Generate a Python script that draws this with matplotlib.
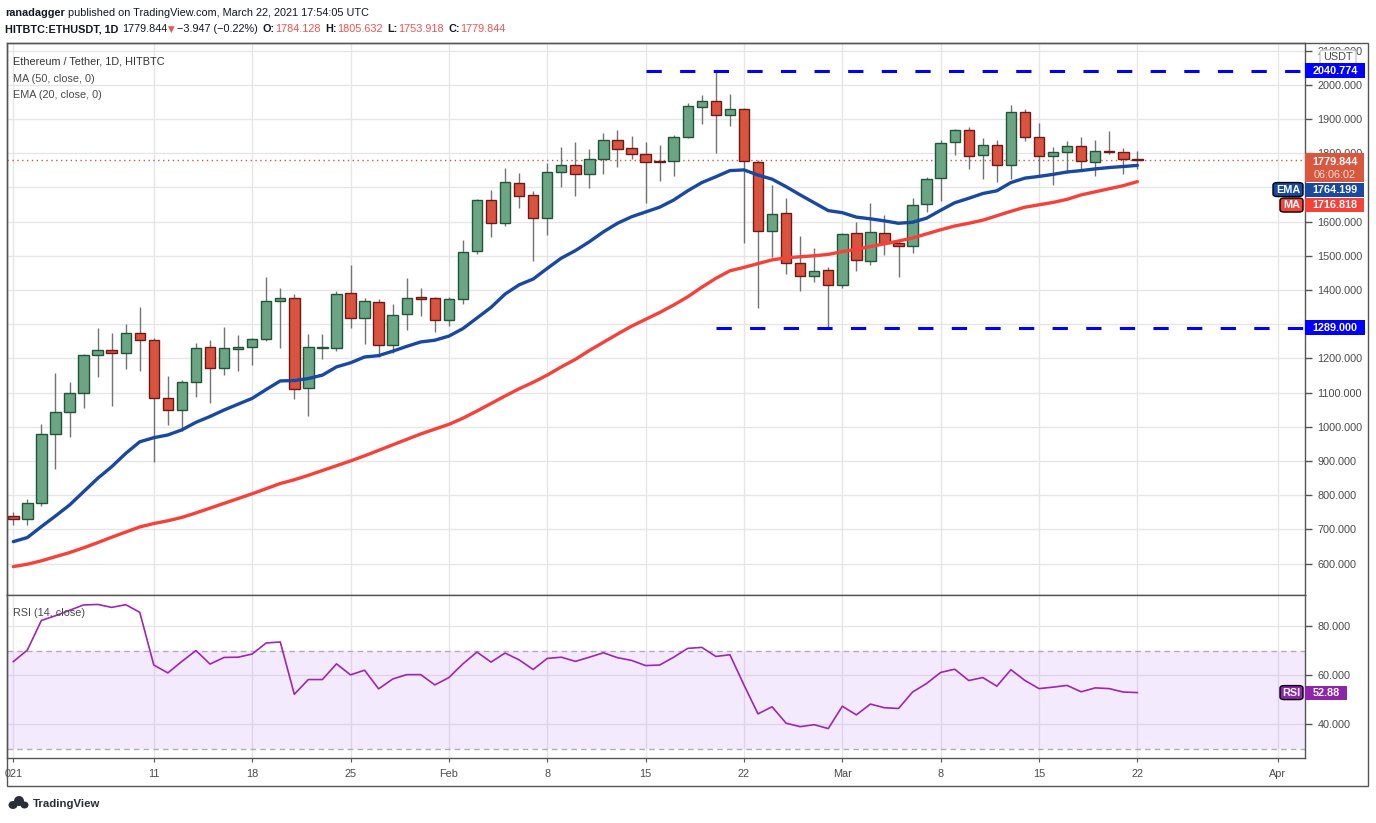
import matplotlib
matplotlib.use("Agg")
import matplotlib.pyplot as plt
import matplotlib.dates as mdates
from matplotlib.patches import Rectangle, FancyBboxPatch, Ellipse
from matplotlib.ticker import FuncFormatter
from matplotlib import font_manager
import numpy as np
import pandas as pd

# ---- data (HITBTC ETHUSDT, 1D) ----
dates = pd.date_range("2021-01-01", "2021-03-22", freq="D")

opens = [738, 730, 776, 978, 1042, 1098, 1209, 1224, 1215, 1273, 1253, 1083, 1048, 1130, 1232, 1171,
         1227, 1233, 1258, 1367, 1376, 1113, 1230, 1231, 1390, 1317, 1364, 1238, 1329, 1379, 1376,
         1311, 1373, 1513, 1662, 1595, 1712, 1677, 1609, 1744, 1765, 1738, 1782, 1838, 1814, 1797, 1777,
         1776, 1846, 1934, 1952, 1911, 1928, 1773, 1572, 1624, 1478, 1442, 1458,
         1414, 1566, 1484, 1566, 1537, 1528, 1651, 1727, 1832, 1867, 1794, 1823, 1765, 1920, 1846, 1791,
         1803, 1820, 1773, 1806, 1803, 1784.128]
highs = [750, 788, 1008, 1156, 1130, 1212, 1289, 1274, 1301, 1350, 1259, 1149, 1137, 1245, 1254, 1292,
         1268, 1259, 1438, 1405, 1388, 1271, 1271, 1397, 1473, 1376, 1373, 1359, 1435, 1405, 1379,
         1379, 1546, 1666, 1692, 1757, 1742, 1689, 1771, 1818, 1833, 1812, 1859, 1868, 1850, 1833, 1824,
         1853, 1946, 1970, 2040.774, 1973, 1931, 1780, 1707, 1668, 1557, 1522, 1466,
         1566, 1599, 1654, 1618, 1545, 1669, 1730, 1839, 1870, 1877, 1844, 1839, 1940, 1928, 1888, 1818,
         1836, 1847, 1839, 1865, 1816, 1805.632]
lows = [713, 713, 769, 876, 971, 1056, 1144, 1062, 1170, 1164, 898, 1006, 989, 1088, 1070, 1152,
        1164, 1182, 1250, 1231, 1082, 1030, 1197, 1221, 1290, 1243, 1205, 1215, 1284, 1325, 1278,
        1295, 1360, 1506, 1556, 1588, 1641, 1486, 1562, 1702, 1676, 1699, 1738, 1760, 1782, 1655, 1720,
        1733, 1843, 1886, 1800, 1880, 1538, 1348, 1497, 1448, 1398, 1424, 1289,
        1405, 1454, 1474, 1503, 1439, 1509, 1629, 1661, 1796, 1755, 1723, 1717, 1725, 1835, 1735, 1708,
        1741, 1755, 1732, 1799, 1740, 1753.918]
closes = [730, 776, 978, 1042, 1098, 1209, 1224, 1215, 1273, 1253, 1083, 1048, 1130, 1230, 1171, 1230,
          1233, 1256, 1367, 1376, 1110, 1232, 1233, 1387, 1317, 1367, 1238, 1326, 1376, 1375, 1311,
          1373, 1510, 1662, 1595, 1715, 1674, 1610, 1744, 1765, 1738, 1782, 1838, 1811, 1797, 1773, 1775,
          1846, 1937, 1952, 1911, 1928, 1776, 1572, 1621, 1478, 1440, 1455, 1414,
          1563, 1487, 1569, 1537, 1528, 1648, 1724, 1829, 1867, 1791, 1823, 1765, 1920, 1846, 1791, 1803,
          1820, 1776, 1806, 1802, 1784, 1779.844]
ema20 = [664, 676, 708, 739, 771, 810, 849, 883, 922, 956, 968, 976, 991, 1013, 1030, 1049,
         1066, 1083, 1109, 1134, 1135, 1141, 1151, 1175, 1187, 1204, 1208, 1221, 1235, 1248, 1253,
         1265, 1287, 1318, 1349, 1388, 1415, 1432, 1463, 1493, 1515, 1541, 1570, 1595, 1614, 1628, 1642,
         1663, 1690, 1714, 1731, 1749, 1751, 1736, 1724, 1702, 1678, 1655, 1632,
         1626, 1613, 1608, 1602, 1595, 1598, 1610, 1633, 1655, 1668, 1682, 1690, 1714, 1727, 1732, 1738,
         1745, 1749, 1754, 1758, 1761, 1764.199]
ma50 = [591, 598, 608, 620, 632, 646, 661, 677, 692, 707, 717, 725, 735, 748, 762, 776,
        790, 804, 819, 834, 845, 858, 872, 886, 900, 915, 931, 947, 963, 979, 993,
        1007, 1025, 1046, 1068, 1090, 1111, 1130, 1151, 1175, 1197, 1223, 1247, 1271, 1294, 1314, 1334,
        1356, 1380, 1408, 1434, 1456, 1466, 1477, 1488, 1494, 1497, 1500, 1504,
        1512, 1519, 1527, 1535, 1543, 1552, 1564, 1576, 1587, 1595, 1604, 1617, 1630, 1642, 1649, 1656,
        1665, 1678, 1687, 1696, 1705, 1716.818]
rsi14 = [65.5, 70.2, 82.3, 84.2, 86.4, 88.6, 88.8, 87.6, 88.7, 85.6, 64.1, 60.9, 65.6, 70.0, 64.5, 67.2,
         67.3, 68.6, 73.1, 73.5, 52.2, 58.2, 58.2, 64.6, 60.1, 62.0, 54.4, 58.4, 60.2, 60.2, 56.0,
         59.0, 64.6, 69.4, 65.3, 69.0, 66.2, 62.3, 66.8, 67.3, 65.6, 67.3, 69.1, 67.1, 66.0, 63.9, 64.1,
         67.3, 70.9, 71.3, 67.6, 68.3, 56.0, 44.2, 47.1, 40.4, 39.0, 39.8, 38.2,
         47.3, 43.8, 48.2, 46.7, 46.4, 53.1, 56.6, 61.1, 62.4, 57.8, 59.0, 55.5, 62.2, 57.8, 54.5, 55.1,
         55.8, 53.2, 54.8, 54.5, 53.1, 52.88]

tick_dates = ["2021-01-01", "2021-01-11", "2021-01-18", "2021-01-25", "2021-02-01", "2021-02-08",
              "2021-02-15", "2021-02-22", "2021-03-01", "2021-03-08", "2021-03-15", "2021-03-22",
              "2021-04-01"]
tick_labels = ["021", "11", "18", "25", "Feb", "8", "15", "22", "Mar", "8", "15", "22", "Apr"]

resistance = 2040.774
resistance_from = "2021-02-15"
support = 1289.000
support_from = "2021-02-20"
last_price = 1779.844
last_ema = 1764.199
last_ma = 1716.818
last_rsi = 52.88

# ---- fonts ----
names = {f.name for f in font_manager.fontManager.ttflist}
if "Liberation Sans Narrow" in names:
    FONT, S = "Liberation Sans Narrow", 9.4
else:
    FONT, S = "Liberation Sans", 7.8
plt.rcParams["font.family"] = [FONT, "DejaVu Sans"]

W, H = 1376, 823
fig = plt.figure(figsize=(W / 100, H / 100), dpi=100)
fig.patch.set_facecolor("white")


def fx(px):
    return px / W


def fy(py):
    return 1 - py / H


def pane(l, t, r, b, **kw):
    return fig.add_axes([fx(l), fy(b), (r - l) / W, (b - t) / H], **kw)


def rect(l, t, r, b, rounded=False, **kw):
    if rounded:
        p = FancyBboxPatch((fx(l), fy(b)), (r - l) / W, (b - t) / H,
                           boxstyle="round,pad=0,rounding_size=0.003",
                           transform=fig.transFigure, **kw)
    else:
        p = Rectangle((fx(l), fy(b)), (r - l) / W, (b - t) / H, transform=fig.transFigure, **kw)
    fig.patches.append(p)


def txt(px, py, s, **kw):
    kw.setdefault("va", "center")
    kw.setdefault("size", S)
    return fig.text(fx(px), fy(py), s, **kw)


def val_y(axis, v):
    return H - axis.transData.transform((0, v))[1]


GRID = "#e6e6e6"
SPINE = "#555555"
LABEL = "#4a4a4a"

x = mdates.date2num(dates)
o, h, lo, c = map(np.array, (opens, highs, lows, closes))

ax = pane(6.7, 42.7, 1305, 595)
axr = pane(6.7, 595, 1305, 758.3, sharex=ax)

ax.set_xlim(x[0] - 0.47, x[0] + 91.93)
ax.set_ylim(508, 2123)
axr.set_ylim(26.1, 92.65)

tx = mdates.date2num(pd.to_datetime(tick_dates))
ax.set_xticks(tx)
axr.set_xticklabels(tick_labels)

for a in (ax, axr):
    a.set_axisbelow(True)
    a.grid(True, color=GRID, lw=1)
    a.yaxis.tick_right()
    a.tick_params(axis="y", length=5, width=1, color=SPINE, pad=4, labelsize=S, labelcolor=LABEL)
    for sp in a.spines.values():
        sp.set_color(SPINE)
        sp.set_linewidth(1)
ax.tick_params(axis="x", length=0, labelbottom=False)
axr.tick_params(axis="x", length=3, color=SPINE, pad=5, labelsize=S, labelcolor=LABEL)

# value boxes on the price scale (pixel spans top..bottom); axis labels under them are hidden
last_y = val_y(ax, last_price)
ema_y, ma_y = last_y + 29.5, last_y + 45
box_spans = [(val_y(ax, resistance) - 7.5, val_y(ax, resistance) + 7.5),
             (val_y(ax, support) - 7.5, val_y(ax, support) + 7.5),
             (last_y - 7, last_y + 22), (ema_y - 7, ema_y + 7), (ma_y - 7, ma_y + 7)]


def price_fmt(v, _):
    yp = val_y(ax, v)
    for t, b in box_spans:
        if t + 2 < yp < b - 2:
            return ""
    return f"{v:.3f}"


ax.set_yticks(np.arange(600, 2101, 100))
axr.set_yticks([40, 60, 80])
ax.yaxis.set_major_formatter(FuncFormatter(price_fmt))
axr.yaxis.set_major_formatter(FuncFormatter(lambda v, _: f"{v:.3f}"))

# ---- candles ----
up = c >= o
bottom = np.minimum(o, c)
height = np.maximum(np.abs(c - o), 1.5)
ax.vlines(x, lo, h, color="#737373", lw=1, zorder=3)
ax.bar(x[up], height[up], bottom=bottom[up], width=0.74, color="#6ba583",
       edgecolor="#225437", lw=1, zorder=4)
ax.bar(x[~up], height[~up], bottom=bottom[~up], width=0.74, color="#d9533f",
       edgecolor="#6b1a1a", lw=1, zorder=4)

ax.plot(x, ma50, color="#f4413a", lw=2.4, zorder=5, solid_capstyle="round")
ax.plot(x, ema20, color="#1848a0", lw=2.4, zorder=6, solid_capstyle="round")

ax.axhline(last_price, color="#d9533f", lw=1, ls=(0, (1, 2.5)), zorder=2)
x_end = x[0] + 92
ax.hlines(resistance, mdates.date2num(pd.Timestamp(resistance_from)), x_end, color="#0000ff",
          lw=2.2, ls=(0, (5, 6)), zorder=7)
ax.hlines(support, mdates.date2num(pd.Timestamp(support_from)), x_end, color="#0000ff",
          lw=2.2, ls=(0, (5, 6)), zorder=7)

# ---- RSI pane ----
axr.axhspan(30, 70, facecolor=(0.6, 0.2, 0.98, 0.1), edgecolor="none", zorder=1)
for lvl in (70, 30):
    axr.axhline(lvl, color="#b5a9bb", lw=1, ls=(0, (4, 3)), zorder=2)
axr.plot(x, rsi14, color="#9c27b0", lw=1.2, zorder=3)

# ---- outer frame ----
rect(6.7, 42.7, 1368, 786, fill=False, ec=SPINE, lw=1)

# ---- in-pane legends ----
txt(13, 61, "Ethereum / Tether, 1D, HITBTC", color="#333333")
txt(13, 78.5, "MA (50, close, 0)", color=LABEL)
txt(13, 95, "EMA (20, close, 0)", color=LABEL)
txt(13, 612.5, "RSI (14, close)", color=LABEL)

# ---- price axis value boxes ----
rect(1320, 50, 1356, 65, rounded=True, fc="white", ec="#c8c8c8", lw=1, zorder=10)
txt(1338, 57.5, "USDT", color=LABEL, ha="center", zorder=11)

yc = val_y(ax, resistance)
rect(1305, yc - 7.5, 1365, yc + 7.5, fc="#0000ff", zorder=10)
txt(1335, yc, f"{resistance:.3f}", color="white", weight="bold", ha="center", zorder=11)

yc = val_y(ax, support)
rect(1305, yc - 7.5, 1365, yc + 7.5, fc="#0000ff", zorder=10)
txt(1335, yc, f"{support:.3f}", color="white", weight="bold", ha="center", zorder=11)

rect(1305, last_y - 7, 1364, last_y + 22, fc="#d9573f", zorder=10)
txt(1335, last_y + 1.5, f"{last_price:.3f}", color="white", weight="bold", ha="center", zorder=11)
txt(1335, last_y + 15, "06:06:02", color="#fbe0da", ha="center", zorder=11)

rect(1273, ema_y - 7, 1303, ema_y + 7, rounded=True, fc="#1848a0", zorder=10)
txt(1288, ema_y, "EMA", color="white", weight="bold", ha="center", zorder=11)
rect(1305, ema_y - 7, 1364, ema_y + 7, fc="#1848a0", zorder=10)
txt(1335, ema_y, f"{last_ema:.3f}", color="white", weight="bold", ha="center", zorder=11)

rect(1280, ma_y - 7, 1303, ma_y + 7, rounded=True, fc="#f4413a", zorder=10)
txt(1291.5, ma_y, "MA", color="white", weight="bold", ha="center", zorder=11)
rect(1305, ma_y - 7, 1364, ma_y + 7, fc="#f4413a", zorder=10)
txt(1335, ma_y, f"{last_ma:.3f}", color="white", weight="bold", ha="center", zorder=11)

yr = val_y(axr, last_rsi)
rect(1280, yr - 7, 1303, yr + 7, rounded=True, fc="#8e24aa", zorder=10)
txt(1291.5, yr, "RSI", color="white", weight="bold", ha="center", zorder=11)
rect(1305, yr - 7, 1347, yr + 7, fc="#8e24aa", zorder=10)
txt(1326, yr, f"{last_rsi:.2f}", color="white", weight="bold", ha="center", zorder=11)

# ---- header ----
renderer = fig.canvas.get_renderer()
DARK = "#131722"
RED = "#ef5350"


def run_text(px, py, pieces):
    cur = px
    for s, kw, gap in pieces:
        kw = dict(kw)
        kw.setdefault("color", DARK)
        t = txt(cur, py, s, ha="left", **kw)
        cur += t.get_window_extent(renderer).width + gap


SP = 3.6
run_text(5, 13, [("ranadagger", {"weight": "bold"}, SP),
                 ("published on TradingView.com, March 22, 2021 17:54:05 UTC", {}, 0)])
run_text(5, 29, [("HITBTC:ETHUSDT, 1D", {"weight": "bold"}, SP),
                 ("1779.844", {}, 1),
                 ("\u25bc", {"color": RED, "family": "DejaVu Sans", "size": S * 0.8}, 2),
                 ("\u22123.947 (\u22120.22%)", {}, SP + 1),
                 ("O:", {"weight": "bold"}, 0.5), ("1784.128", {"color": RED}, SP + 1),
                 ("H:", {"weight": "bold"}, 0.5), ("1805.632", {"color": RED}, SP + 1),
                 ("L:", {"weight": "bold"}, 0.5), ("1753.918", {"color": RED}, SP + 1),
                 ("C:", {"weight": "bold"}, 0.5), ("1779.844", {"color": RED}, 0)])

# ---- footer logo ----
for ex, ey, ew, eh in [(13, 805, 9, 8), (19, 801, 10, 10), (24.5, 805, 8, 7)]:
    fig.patches.append(Ellipse((fx(ex), fy(ey)), ew / W, eh / H, transform=fig.transFigure,
                               fc="#2a2e39", ec="none"))
txt(33, 804, "TradingView", color="#2a2e39", weight="bold", size=S * 1.05)

fig.savefig("out.png", dpi=100, facecolor="white")
